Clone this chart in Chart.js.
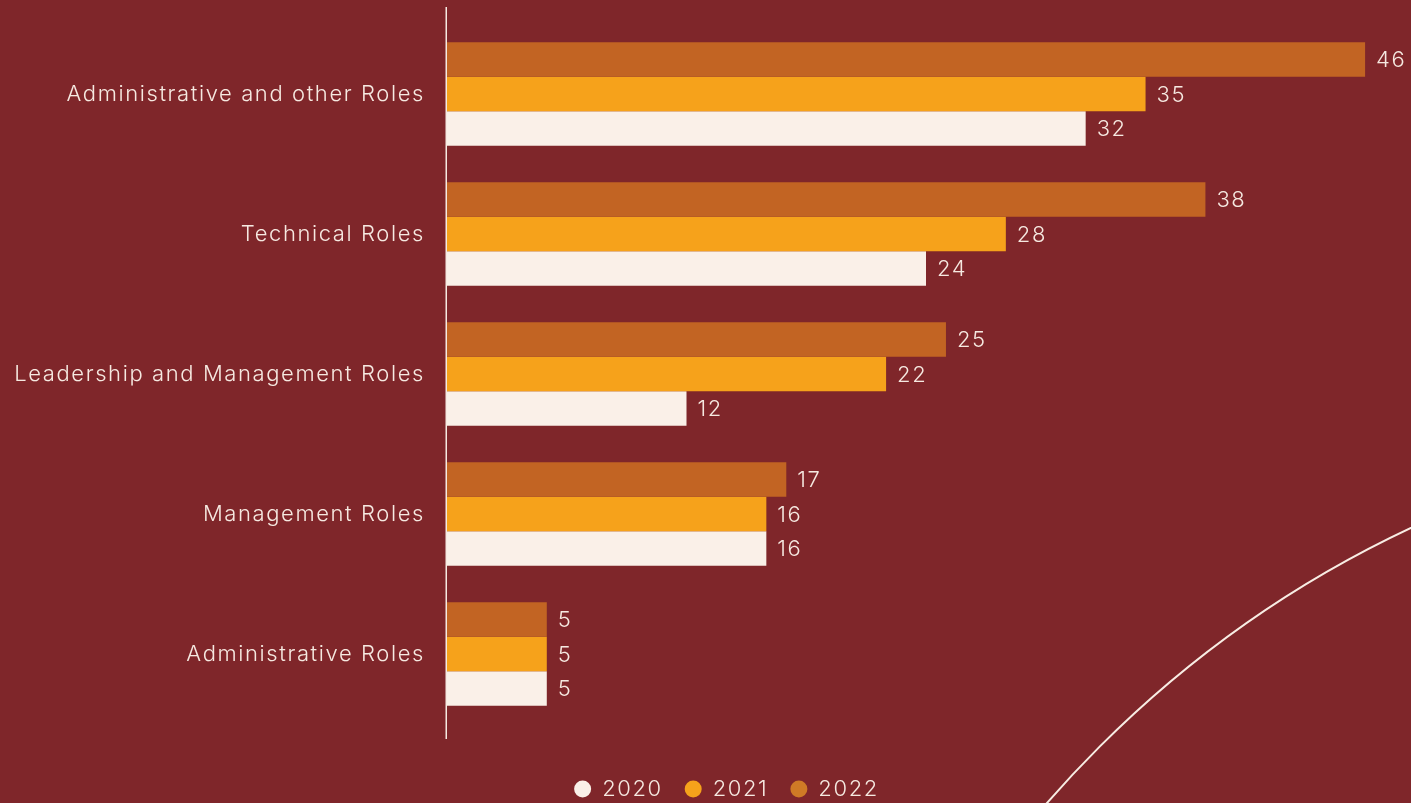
<!DOCTYPE html>
<html>
<head>
<meta charset="utf-8">
<title>Roles by year</title>
<script src="https://cdn.jsdelivr.net/npm/chart.js@4/dist/chart.umd.min.js"></script>
<style>
  html, body { margin: 0; padding: 0; background: #7f262a; }
  #wrap { position: relative; width: 1411px; height: 803px; }
</style>
</head>
<body>
<div id="wrap"><canvas id="roles-chart"></canvas></div>
<script>
const categories = [
  'Administrative and other Roles',
  'Technical Roles',
  'Leadership and Management Roles',
  'Management Roles',
  'Administrative Roles',
];
const years = ['2022', '2021', '2020'];
const values2022 = [46, 38, 25, 17, 5];
const values2021 = [35, 28, 22, 16, 5];
const values2020 = [32, 24, 12, 16, 5];

const INK    = '#f6e9e1';
const FONT   = 'Inter, "Open Sans", sans-serif';
const TRACK  = '1.6px';
const colors = { '2022': '#c26423', '2021': '#f6a21b', '2020': '#faf0e8' };
const legendColors = { '2022': '#cf7a26', '2021': '#f6a21b', '2020': '#faf0e8' };

// slightly wider tracking for every label (canvas state resets on resize)
const tracking = {
  id: 'tracking',
  beforeUpdate(chart) { chart.ctx.letterSpacing = TRACK; },
  beforeDraw(chart) { chart.ctx.letterSpacing = TRACK; },
};

// legend sits a bit right of the page centre
const legendShift = {
  id: 'legendShift',
  afterLayout(chart) { chart.legend.left += 42; },
};

// numbers at the end of each bar
const valueLabels = {
  id: 'valueLabels',
  afterDatasetsDraw(chart) {
    const ctx = chart.ctx;
    ctx.save();
    ctx.fillStyle = INK;
    ctx.font = '300 22px ' + FONT;
    ctx.textAlign = 'left';
    ctx.textBaseline = 'middle';
    chart.data.datasets.forEach((ds, i) => {
      chart.getDatasetMeta(i).data.forEach((bar, j) => {
        ctx.fillText(String(ds.data[j]), bar.x + 11, bar.y + 1);
      });
    });
    ctx.restore();
  },
};

// vertical baseline, a little longer than the plot area
const baseline = {
  id: 'baseline',
  afterDraw(chart) {
    const { ctx, chartArea } = chart;
    const x = Math.round(chart.scales.x.getPixelForValue(0)) - 0.75;
    ctx.save();
    ctx.strokeStyle = INK;
    ctx.lineWidth = 1.5;
    ctx.beginPath();
    ctx.moveTo(x, chartArea.top - 17);
    ctx.lineTo(x, chartArea.bottom + 15);
    ctx.stroke();
    ctx.restore();
  },
};

// decorative arc in the lower right corner
const cornerArc = {
  id: 'cornerArc',
  beforeDraw(chart) {
    const ctx = chart.ctx;
    ctx.save();
    ctx.strokeStyle = '#f8ede4';
    ctx.lineWidth = 2;
    ctx.beginPath();
    ctx.arc(1881, 1528, 1105, Math.PI, Math.PI * 1.5);
    ctx.stroke();
    ctx.restore();
  },
};

const series = { '2022': values2022, '2021': values2021, '2020': values2020 };

new Chart(document.getElementById('roles-chart'), {
  type: 'bar',
  data: {
    labels: categories,
    datasets: years.map(y => ({
      label: y,
      data: series[y],
      backgroundColor: colors[y],
      borderWidth: 0,
      categoryPercentage: 0.74,
      barPercentage: 1,
    })),
  },
  options: {
    indexAxis: 'y',
    responsive: true,
    maintainAspectRatio: false,
    animation: false,
    layout: { padding: { top: 24, bottom: -7, left: 0, right: 0 } },
    scales: {
      x: {
        min: 0, max: 48.3,
        grid: { display: false, drawTicks: false },
        border: { display: false },
        ticks: { display: false },
        afterFit(scale) { scale.height = 32; },
      },
      y: {
        grid: { display: false, drawTicks: false },
        border: { display: false },
        ticks: { color: INK, font: { family: FONT, size: 22, weight: 300 }, padding: 22 },
        afterFit(scale) {
          scale.width = 447;
          scale.paddingTop = 0;
          scale.paddingBottom = 0;
        },
      },
    },
    plugins: {
      tooltip: { enabled: false },
      legend: {
        position: 'bottom',
        reverse: true,
        labels: {
          color: INK,
          font: { family: FONT, size: 22, weight: 300 },
          usePointStyle: true,
          pointStyle: 'circle',
          boxHeight: 12,
          pointStyleWidth: 17,
          padding: 22,
          generateLabels(chart) {
            return chart.data.datasets.map((ds, i) => ({
              text: ds.label,
              fillStyle: legendColors[ds.label],
              strokeStyle: legendColors[ds.label],
              lineWidth: 0,
              pointStyle: 'circle',
              fontColor: INK,
              hidden: false,
              datasetIndex: i,
            }));
          },
        },
      },
    },
  },
  plugins: [tracking, legendShift, cornerArc, valueLabels, baseline],
});
</script>
</body>
</html>
